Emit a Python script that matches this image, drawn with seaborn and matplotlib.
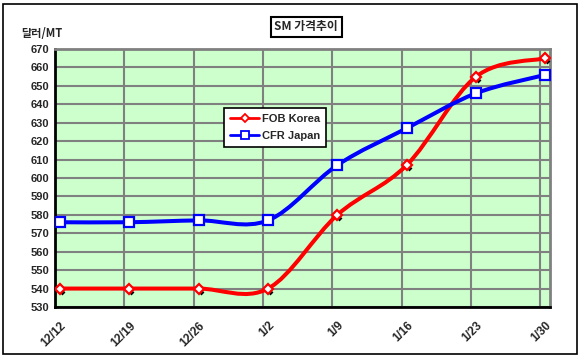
import numpy as np
import pandas as pd
import matplotlib
matplotlib.use("Agg")
import matplotlib.pyplot as plt
import seaborn as sns
from matplotlib.path import Path
from matplotlib.patches import PathPatch, Rectangle
from matplotlib.lines import Line2D
from matplotlib import transforms

dates = ["12/12", "12/19", "12/26", "1/2", "1/9", "1/16", "1/23", "1/30"]
fob_korea = [540, 540, 540, 540, 580, 607, 655, 665]
cfr_japan = [576, 576, 577, 577, 607, 627, 646, 656]

sns.set_theme(style="white")
plt.rcParams["font.family"] = ["Liberation Sans", "Noto Sans CJK KR", "DejaVu Sans"]
plt.rcParams["font.weight"] = "bold"


def smooth_path(xs, ys):
    # Excel-style smoothed line: cubic Bezier through the points (Catmull-Rom, 1/6 tangents)
    pts = np.column_stack([xs, ys]).astype(float)
    n = len(pts)
    verts = [pts[0]]
    codes = [Path.MOVETO]
    for i in range(n - 1):
        p0 = pts[i - 1] if i > 0 else pts[i]
        p1, p2 = pts[i], pts[i + 1]
        p3 = pts[i + 2] if i + 2 < n else pts[i + 1]
        verts += [p1 + (p2 - p0) / 6, p2 - (p3 - p1) / 6, p2]
        codes += [Path.CURVE4] * 3
    return Path(verts, codes)


df = pd.DataFrame({"x": range(len(dates)), "FOB Korea": fob_korea, "CFR Japan": cfr_japan})

fig = plt.figure(figsize=(5.8, 3.58), dpi=100)
ax = fig.add_axes([0.095, 0.1425, 0.853, 0.7205])
ax.set_facecolor("#CCFFCC")

series = [("FOB Korea", "#FF0000", "D", 5), ("CFR Japan", "#0000FF", "s", 7)]
handles = []
for name, color, marker, ms in series:
    patch = PathPatch(smooth_path(df["x"], df[name]), facecolor="none", edgecolor=color,
                      lw=2.9, zorder=3, capstyle="round")
    ax.add_patch(patch)
    shadow = transforms.offset_copy(ax.transData, fig=fig, x=2, y=-3, units="dots")
    ax.scatter(df["x"], df[name], marker=marker, s=(ms * 0.6) ** 2, color="black",
               transform=shadow, zorder=3.5, linewidths=0)
    sns.lineplot(data=df, x="x", y=name, ax=ax, color=color, lw=0, marker=marker,
                 markersize=ms, markerfacecolor="white", markeredgecolor=color,
                 markeredgewidth=1.6, zorder=4)
    handles.append(Line2D([], [], color=color, lw=2, marker=marker, markersize=ms - 1,
                          markerfacecolor="white", markeredgecolor=color, markeredgewidth=1.3))

# gridlines sit a few pixels left of the points, as in the original
shift = 0.072
ax.set_xlim(-shift, 7.065)
ax.set_ylim(530, 670)
ax.set_yticks(np.arange(530, 671, 10))
ax.set_xticks(np.arange(len(dates)) - shift)
ax.set_xticklabels(dates, rotation=45, ha="right", rotation_mode="anchor")
ax.set_xlabel("")
ax.set_ylabel("")
ax.grid(True, color="#808080", lw=1.5, ls="-")
ax.set_axisbelow(True)
ax.tick_params(axis="both", labelsize=8, length=4, width=1.5, direction="in", color="black", pad=4)
ax.tick_params(axis="x", direction="out", length=4, pad=5, labelsize=8.5)
for side in ["top", "right"]:
    ax.spines[side].set_color("#808080")
    ax.spines[side].set_linewidth(2)
for side in ["left", "bottom"]:
    ax.spines[side].set_color("black")
    ax.spines[side].set_linewidth(2)
for lab in ax.get_xticklabels() + ax.get_yticklabels():
    lab.set_fontweight("bold")
label_shift = transforms.ScaledTranslation(5 / 100, 0, fig.dpi_scale_trans)
for lab in ax.get_xticklabels():
    lab.set_transform(lab.get_transform() + label_shift)

leg = ax.legend(handles, [s[0] for s in series], loc="upper left", bbox_to_anchor=(0.342, 0.771),
                borderaxespad=0, frameon=True, fancybox=False, edgecolor="black", framealpha=1,
                prop={"size": 8, "weight": "bold"}, handlelength=2.6, borderpad=0.55,
                labelspacing=0.6, handletextpad=0.2)
leg.get_frame().set_linewidth(1.2)
leg.set_zorder(10)

fig.text(0.528, 0.925, "SM 가격추이", ha="center", va="center", fontsize=8.5, fontweight="bold",
         family=["Noto Sans CJK KR", "DejaVu Sans"],
         bbox=dict(boxstyle="square,pad=0.3", facecolor="white", edgecolor="black", lw=1.5))
fig.text(0.036, 0.907, "달러/MT", ha="left", va="center", fontsize=8, fontweight="bold",
         family=["Noto Sans CJK KR", "DejaVu Sans"])

fig.patches.append(Rectangle((0.005, 0.01), 0.99, 0.98, transform=fig.transFigure,
                             fill=False, edgecolor="black", lw=1.2))

fig.savefig("out.png", dpi=100)
